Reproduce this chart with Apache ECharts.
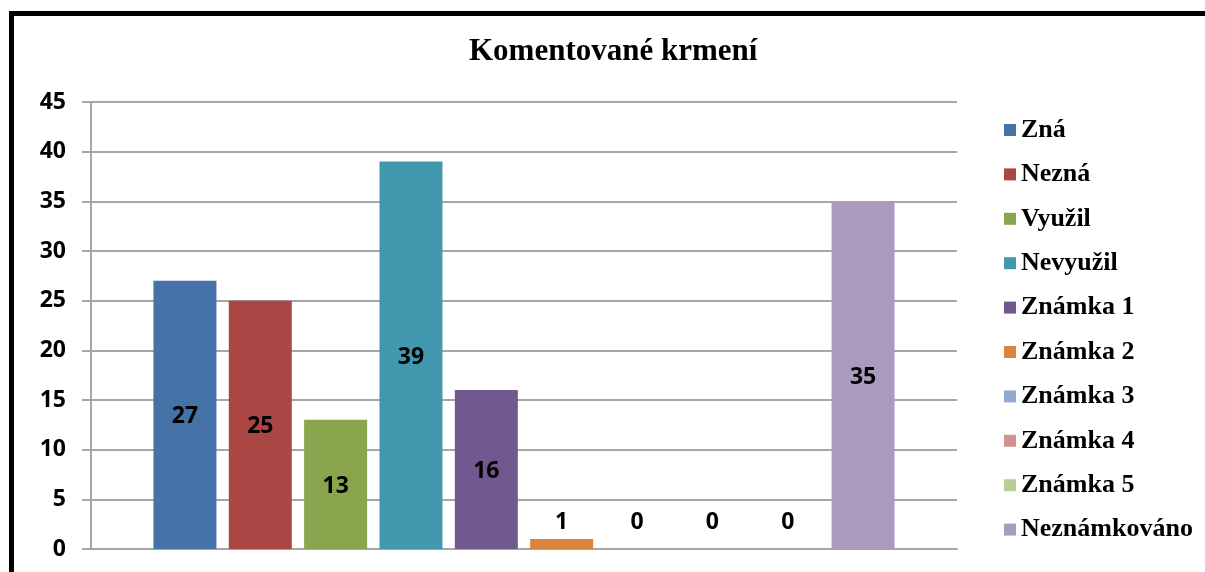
<!DOCTYPE html>
<html>
<head>
<meta charset="utf-8">
<script src="https://cdn.jsdelivr.net/npm/echarts@6/dist/echarts.min.js"></script>
<style>
  html, body { margin: 0; padding: 0; background: #fff; }
  #chart { width: 1205px; height: 572px; position: absolute; left: 0; top: 0; }
  .frame { position: absolute; left: 9px; top: 11px; right: 0; bottom: 0;
           border-top: 5px solid #000; border-left: 5px solid #000; pointer-events: none; }
</style>
</head>
<body>
<div id="chart"></div>
<div class="frame"></div>
<script>
// data
var categories = ['Komentované krmení'];
var seriesNames = ['Zná', 'Nezná', 'Využil', 'Nevyužil', 'Známka 1', 'Známka 2', 'Známka 3', 'Známka 4', 'Známka 5', 'Neznámkováno'];
var seriesValues = [27, 25, 13, 39, 16, 1, 0, 0, 0, 35];
var colors = ['#4572A7', '#AA4643', '#89A54E', '#4198AF', '#71588F', '#DB843D', '#93A9CF', '#D19392', '#B9CD96', '#A99BBD'];

var chart = echarts.init(document.getElementById('chart'));
var gridColor = '#a6a6a6';

var series = [];
seriesNames.forEach(function (name, i) {
  var v = seriesValues[i];
  var small = v < 3;
  series.push({
    name: name,
    type: 'bar',
    barWidth: 63,
    barGap: '19.6%',
    data: [v],
    itemStyle: { color: colors[i] },
    label: {
      show: true,
      position: small ? 'insideBottom' : 'inside',
      distance: small ? 15 : 5,
      offset: small ? [0, 0] : [0, 2],
      color: '#000',
      fontFamily: 'Open Sans',
      fontWeight: 'bold',
      fontSize: 23
    }
  });
});

var option = {
  animation: false,
  color: colors,
  title: {
    text: 'Komentované krmení',
    left: 464,
    top: 31,
    textStyle: {
      fontFamily: 'Liberation Serif',
      fontWeight: 'bold',
      fontSize: 31,
      color: '#000'
    }
  },
  legend: {
    orient: 'vertical',
    left: 999,
    top: 112,
    icon: 'rect',
    itemWidth: 12,
    itemHeight: 12,
    itemGap: 18.4,
    data: seriesNames,
    textStyle: {
      fontFamily: 'Liberation Serif',
      fontWeight: 'bold',
      fontSize: 26,
      lineHeight: 26,
      color: '#000'
    }
  },
  grid: { left: 91, right: 248, top: 102, bottom: 23 },
  xAxis: {
    type: 'category',
    data: categories,
    axisLine: { lineStyle: { color: gridColor, width: 2 } },
    axisTick: { show: false },
    axisLabel: { show: false }
  },
  yAxis: {
    type: 'value',
    min: 0,
    max: 45,
    interval: 5,
    axisLine: { show: true, lineStyle: { color: gridColor, width: 2 } },
    axisTick: { show: true, length: 9, lineStyle: { color: gridColor, width: 2 } },
    splitLine: { lineStyle: { color: gridColor, width: 2 } },
    axisLabel: {
      margin: 25,
      color: '#000',
      fontFamily: 'Open Sans',
      fontWeight: 'bold',
      fontSize: 23
    }
  },
  series: series
};
chart.setOption(option);
</script>
</body>
</html>
